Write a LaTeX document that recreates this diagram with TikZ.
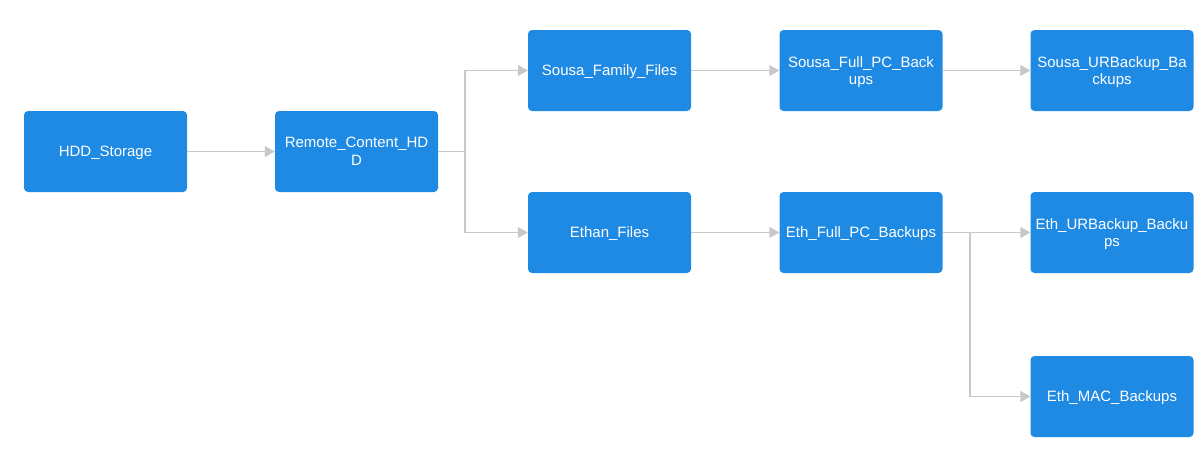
\documentclass[tikz,border=0pt]{standalone}
\usepackage{fontspec}
\setmainfont{Liberation Sans}
\usetikzlibrary{arrows.meta}
\definecolor{boxblue}{RGB}{30,138,228}
\definecolor{linegray}{RGB}{200,200,200}
\tikzset{
  box/.style={rectangle, rounded corners=4pt, fill=boxblue, draw=none,
    minimum width=163pt, minimum height=81pt, inner sep=0pt, text depth=0pt,
    text=white, align=center, font=\fontsize{15pt}{17.5pt}\selectfont},
  conn/.style={draw=linegray, line width=1.3pt,
    -{Triangle[length=10pt,width=11pt]}},
  plain/.style={draw=linegray, line width=1.3pt}
}
\begin{document}
\begin{tikzpicture}[x=1pt,y=-1pt]
\useasboundingbox (0,0) rectangle (1200,450);
\node[box] (hdd) at (105.5,151.5) {HDD\_Storage};
\node[box] (remote) at (356.5,151.5) {Remote\_Content\_HD\\D};
\node[box] (sfam) at (609.5,70.5) {Sousa\_Family\_Files};
\node[box] (ethan) at (609.5,232.5) {Ethan\_Files};
\node[box] (sfull) at (861,70.5) {Sousa\_Full\_PC\_Back\\ups};
\node[box] (efull) at (861,232.5) {Eth\_Full\_PC\_Backups};
\node[box] (sur) at (1112,70.5) {Sousa\_URBackup\_Ba\\ckups};
\node[box] (eur) at (1112,232.5) {Eth\_URBackup\_Backu\\ps};
\node[box] (emac) at (1112,396.5) {Eth\_MAC\_Backups};
\coordinate (j1) at (465,151.5);
\coordinate (j2) at (970,232.5);
\draw[conn] (hdd) -- (remote);
\draw[plain] (remote.east) -- (j1);
\draw[conn] (j1) |- (sfam.west);
\draw[conn] (j1) |- (ethan.west);
\draw[conn] (sfam) -- (sfull);
\draw[conn] (sfull) -- (sur);
\draw[conn] (ethan) -- (efull);
\draw[plain] (efull.east) -- (j2);
\draw[conn] (j2) -- (eur.west);
\draw[conn] (j2) |- (emac.west);
\end{tikzpicture}
\end{document}
